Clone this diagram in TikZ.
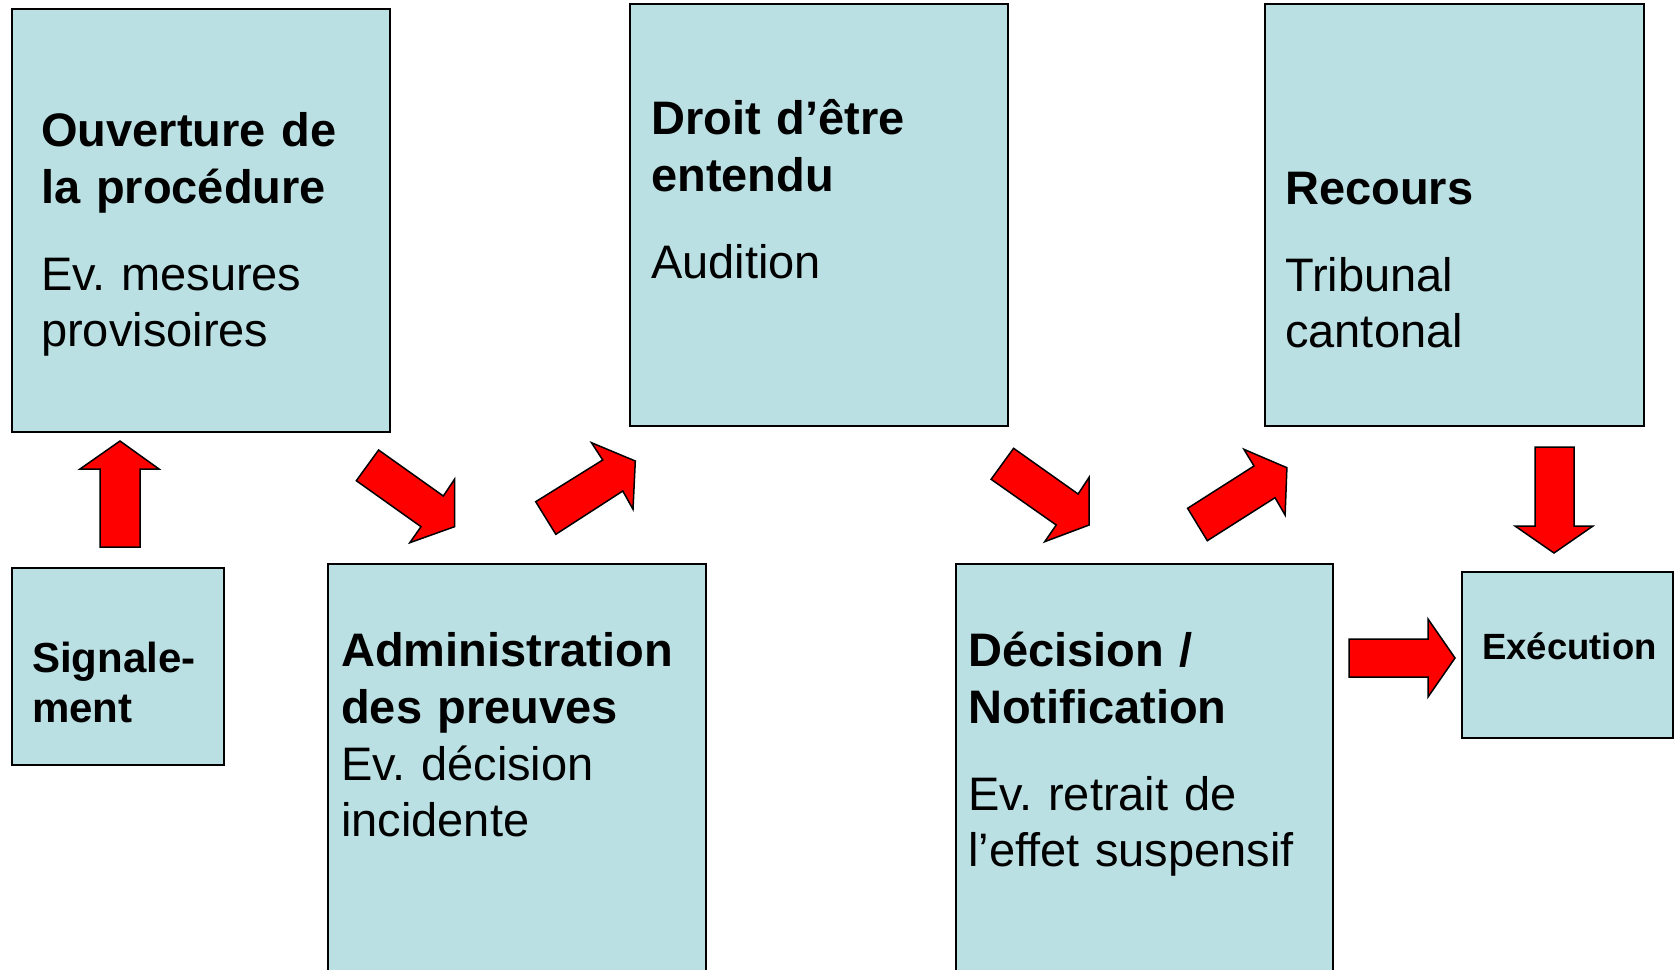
\documentclass[tikz,border=0pt]{standalone}
\usepackage{fontspec}
\setmainfont{Liberation Sans}
\definecolor{boxfill}{RGB}{186,224,227}
\frenchspacing
\begin{document}
\begin{tikzpicture}[x=1pt,y=-1pt,
  box/.style={draw=black, line width=2pt, fill=boxfill, anchor=north west, inner sep=0pt, outer sep=0pt},
  txtb/.style={font=\fontsize{47}{57}\selectfont\bfseries, anchor=base west, inner sep=0pt, align=left, text width=360pt},
  txtr/.style={font=\fontsize{47}{56}\selectfont, anchor=base west, inner sep=0pt, align=left, text width=360pt},
  txtsb/.style={font=\fontsize{42}{50}\selectfont\bfseries, anchor=base west, inner sep=0pt, align=left, text width=200pt},
  txtxb/.style={font=\fontsize{36.5}{44}\selectfont\bfseries, anchor=base west, inner sep=0pt, align=left, text width=200pt},
  blockarrow/.style={fill=red, draw=black, line width=1.5pt, line join=miter}]
\useasboundingbox (0,0) rectangle (1678,969);
\clip (0,0) rectangle (1678,969);

% boxes
\node[box, minimum width=378pt, minimum height=423pt] (ouv) at (12,9) {};
\node[box, minimum width=212pt, minimum height=197pt] (sig) at (12,568) {};
\node[box, minimum width=378pt, minimum height=450pt] (adm) at (328,564) {};
\node[box, minimum width=378pt, minimum height=422pt] (droit) at (630,4) {};
\node[box, minimum width=377pt, minimum height=450pt] (dec) at (956,564) {};
\node[box, minimum width=379pt, minimum height=422pt] (rec) at (1265,4) {};
\node[box, minimum width=211pt, minimum height=166pt] (exe) at (1462,572) {};

% texts
\node[txtb] (ouvA) at (41,146) {Ouverture de\\la procédure};
\node[txtr] (ouvB) at (41,290) {Ev. mesures\\provisoires};
\node[txtsb] (sigA) at (32,672) {Signale-\\ment};
\node[txtb] (admA) at (341,666) {Administration\\des preuves};
\node[txtr] (admB) at (341,780) {Ev. décision\\incidente};
\node[txtb] (droitA) at (651,134) {Droit d’être\\entendu};
\node[txtr] (droitB) at (651,278) {Audition};
\node[txtb] (decA) at (968,666) {Décision /\\Notification};
\node[txtr] (decB) at (968,810) {Ev. retrait de\\l’effet suspensif};
\node[txtb] (recA) at (1285,204) {Recours};
\node[txtr] (recB) at (1285,291) {Tribunal\\cantonal};
\node[txtxb] (exeA) at (1482,659) {Exécution};

% block arrows
\draw[blockarrow] (120,441) -- (159,469) -- (140,469) -- (140,547) -- (100,547) -- (100,469) -- (80,469) -- cycle;
\draw[blockarrow] (378.6,450) -- (443.3,496) -- (454.5,479.3) -- (454.5,526.7) -- (409.8,542.7) -- (421,526.7) -- (356.3,480.7) -- cycle;
\draw[blockarrow] (535.7,501.7) -- (602.7,460) -- (591.5,442.7) -- (635.3,461) -- (633,509.3) -- (622.8,491) -- (555.8,534.3) -- cycle;
\draw[blockarrow] (1013.6,448.3) -- (1078.1,494) -- (1089.1,477.3) -- (1089.1,525) -- (1044.7,541.7) -- (1056.2,525) -- (991.1,479.3) -- cycle;
\draw[blockarrow] (1187.6,508.3) -- (1254,466) -- (1243.9,449.3) -- (1286.9,467.7) -- (1285.1,515) -- (1275,497.7) -- (1207.3,540.7) -- cycle;
\draw[blockarrow] (1535,447) -- (1574,447) -- (1574,526) -- (1593,526) -- (1554,553) -- (1515,526) -- (1535,526) -- cycle;
\draw[blockarrow] (1349,639) -- (1428,639) -- (1428,619) -- (1455,658) -- (1428,697) -- (1428,677) -- (1349,677) -- cycle;
\end{tikzpicture}
\end{document}
